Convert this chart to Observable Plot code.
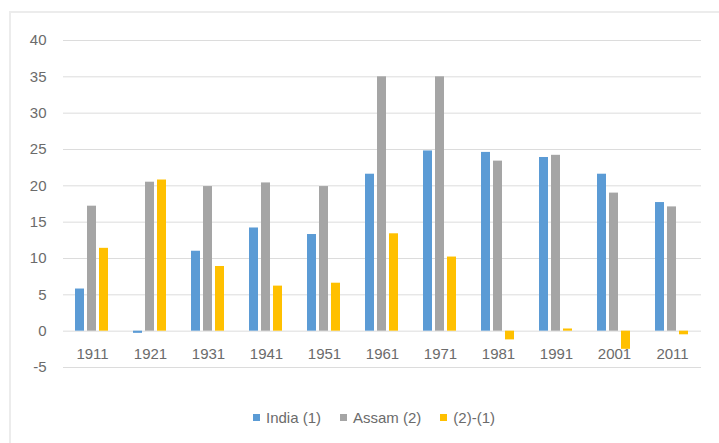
<!DOCTYPE html>
<html>
<head>
<meta charset="utf-8">
<script src="https://cdn.jsdelivr.net/npm/d3@7"></script>
<script src="https://cdn.jsdelivr.net/npm/@observablehq/plot@0.6"></script>
<style>
  html, body { margin: 0; padding: 0; background: #fff; }
  #wrap { position: relative; width: 719px; height: 443px; overflow: hidden; font-family: "Liberation Sans", Arial, sans-serif; }
  #frame { position: absolute; left: 9px; top: 11px; width: 720px; height: 440px; border-top: 2px solid #ececec; border-left: 2px solid #ececec; box-sizing: border-box; }
  #chart { position: absolute; left: 0; top: 0; }
  #legend { position: absolute; left: 46px; width: 656px; top: 395px; height: 44px; display: flex; justify-content: center; align-items: center; font-size: 15px; color: #6b6b6b; gap: 19px; }
  #legend .item { display: flex; align-items: center; }
  #legend .sw { width: 7px; height: 7px; margin-right: 6px; display: inline-block; }
</style>
</head>
<body>
<div id="wrap">
  <div id="frame"></div>
  <div id="chart"></div>
  <div id="legend"></div>
</div>
<script>
const years = ["1911", "1921", "1931", "1941", "1951", "1961", "1971", "1981", "1991", "2001", "2011"];
const india = [5.8, -0.3, 11.0, 14.2, 13.3, 21.6, 24.8, 24.6, 23.9, 21.6, 17.7];
const assam = [17.2, 20.5, 19.9, 20.4, 19.9, 35.0, 35.0, 23.4, 24.2, 19.0, 17.1];
const diff  = [11.4, 20.8, 8.9, 6.2, 6.6, 13.4, 10.2, -1.2, 0.3, -2.5, -0.5];
const series = ["India (1)", "Assam (2)", "(2)-(1)"];
const colors = ["#5B9BD5", "#A5A5A5", "#FFC000"];
const yTicks = [-5, 0, 5, 10, 15, 20, 25, 30, 35, 40];

const values = [india, assam, diff];
const data = years.flatMap((yr, i) => series.map((s, k) => ({year: yr, series: s, value: values[k][i]})));

const chart = Plot.plot({
  width: 719,
  height: 395,
  marginTop: 40,
  marginBottom: 28,
  marginLeft: 60,
  marginRight: 16,
  style: {fontFamily: "Liberation Sans, Arial, sans-serif", fontSize: "15px", color: "#6b6b6b", background: "transparent"},
  fx: {domain: years, paddingInner: 0, paddingOuter: 0, label: null, axis: null},
  x: {domain: series, paddingInner: 0.23, paddingOuter: 0.86, axis: null},
  y: {domain: [-5, 40], label: null, axis: null},
  color: {domain: series, range: colors},
  marks: [
    Plot.gridY(yTicks, {stroke: "#dcdcdc", strokeOpacity: 1, strokeWidth: 1}),
    Plot.barY(data, {fx: "year", x: "series", y: "value", fill: "series"}),
    Plot.axisY(yTicks, {tickSize: 0, tickPadding: 17, label: null, fill: "#6b6b6b", tickFormat: d => String(d)}),
    Plot.axisFx({anchor: "bottom", tickSize: 0, tickPadding: 0, dy: -19, label: null, fill: "#6b6b6b"})
  ]
});
document.getElementById("chart").appendChild(chart);

const legend = d3.select("#legend");
series.forEach((s, k) => {
  const it = legend.append("div").attr("class", "item");
  it.append("span").attr("class", "sw").style("background", colors[k]);
  it.append("span").text(s);
});
</script>
</body>
</html>
